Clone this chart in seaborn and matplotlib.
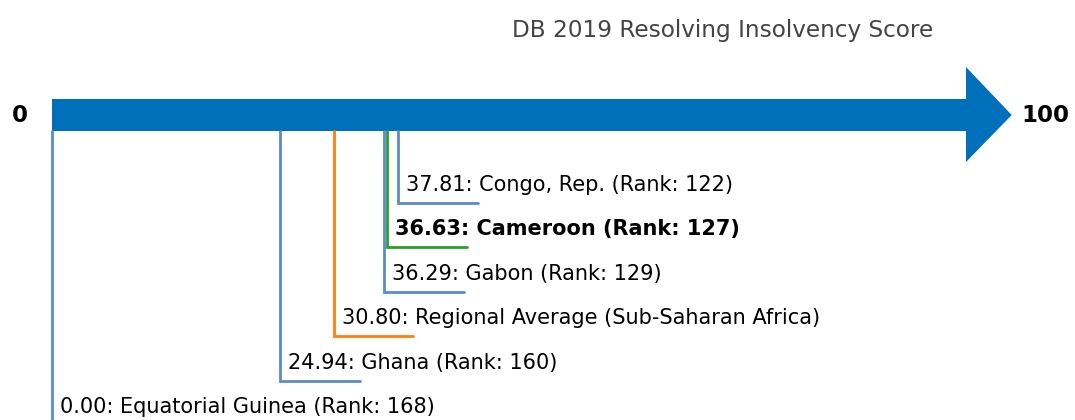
import matplotlib
matplotlib.use("Agg")
import matplotlib.pyplot as plt
import pandas as pd
import seaborn as sns

# data
names = ["Congo, Rep.", "Cameroon", "Gabon", "Regional Average (Sub-Saharan Africa)", "Ghana", "Equatorial Guinea"]
scores = [37.81, 36.63, 36.29, 30.80, 24.94, 0.00]
ranks = [122, 127, 129, None, 160, 168]
kinds = ["peer", "focus", "peer", "region", "peer", "peer"]

colors = {"peer": "#5b8bc9", "focus": "#2ca02c", "region": "#ff7f0e"}

df = pd.DataFrame({"name": names, "score": scores, "rank": ranks, "kind": kinds})

sns.set_style("white")
plt.rcParams['font.family'] = ['DejaVu Sans']
plt.rcParams['text.color'] = 'black'

fig = plt.figure(figsize=(10.75, 4.2), dpi=100)
ax = fig.add_axes([0, 0, 1, 1])
pxu = 9.14
ax.set_xlim(-52 / pxu, (1075 - 52) / pxu)
ax.set_ylim(420, 0)
ax.axis("off")

# big arrow 0 -> 100
smin, smax = 0, 100
ax.fill([smin, smax, smax, smax + 5.0, smax, smax, smin],
        [99, 99, 67, 115, 162, 131, 131], color="#0070bb", lw=0)
ax.text(smin - 3.5, 115, "0", ha="center", va="center", fontsize=16.5, fontweight="bold")
ax.text(smax + 6.1, 115, "100", ha="left", va="center", fontsize=16.5, fontweight="bold")
ax.text(73.4, 31, "DB 2019 Resolving Insolvency Score", ha="center", va="center",
        fontsize=16.7, color="#444444")

# connectors and labels
for i, r in df.iterrows():
    yb = 203 + 44.4 * i
    c = colors[r["kind"]]
    ax.plot([r["score"], r["score"], r["score"] + 8.75], [131, yb, yb], color=c, lw=2.0,
            solid_joinstyle="miter")
    if r["kind"] == "region":
        lab = f"{r['score']:.2f}: {r['name']}"
    else:
        lab = f"{r['score']:.2f}: {r['name']} (Rank: {int(r['rank'])})"
    ax.text(r["score"] + 0.9, yb - 18, lab, ha="left", va="center", fontsize=15,
            fontweight="bold" if r["kind"] == "focus" else "normal")

fig.savefig("out.png", dpi=100)
